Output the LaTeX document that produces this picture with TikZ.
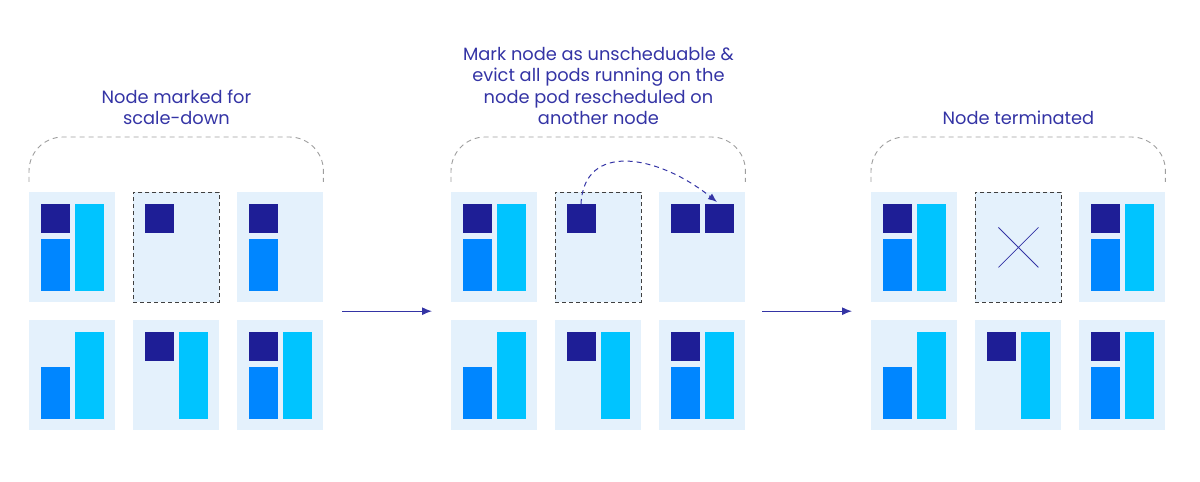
\documentclass[tikz,border=0pt]{standalone}
\usepackage{fontspec}
\setmainfont{Poppins}
\usetikzlibrary{arrows.meta,calc}
\definecolor{podnavy}{RGB}{30,30,150}
\definecolor{podblue}{RGB}{0,134,255}
\definecolor{podcyan}{RGB}{0,196,255}
\definecolor{hostfill}{RGB}{228,241,252}
\definecolor{inkblue}{RGB}{52,52,165}
\tikzstyle{host}=[fill=hostfill,inner sep=0pt,minimum width=86pt,minimum height=110pt,anchor=north west]
\tikzstyle{drained}=[host,draw=black!75,dash pattern=on 4pt off 3pt,line width=0.9pt]
\tikzstyle{bracket}=[draw=black!38,dash pattern=on 5pt off 4pt,line width=0.9pt,rounded corners=34pt]
\tikzstyle{caption}=[text=inkblue,font=\fontsize{17.8}{21.5}\selectfont,align=center,anchor=south,inner sep=0pt]
\tikzstyle{flow}=[draw=inkblue,line width=1.1pt,-{Latex[length=10pt,width=8pt]}]
\newcommand{\podS}[2]{\fill[podnavy] ([xshift=#2,yshift=-12pt]#1.north west) rectangle ++(29pt,-29pt);}
\newcommand{\podM}[1]{\fill[podblue] ([xshift=12pt,yshift=-47pt]#1.north west) rectangle ++(29pt,-52pt);}
\newcommand{\podL}[1]{\fill[podcyan] ([xshift=46pt,yshift=-12pt]#1.north west) rectangle ++(29pt,-87pt);}

\begin{document}
\begin{tikzpicture}[x=1pt,y=1pt]
\useasboundingbox (0,0) rectangle (1200,482);

% top row
\node[host] (a1) at (29,290) {};
\node[drained] (a2) at (133,290) {};
\node[host] (a3) at (237,290) {};
\node[host] (b1) at (451,290) {};
\node[drained] (b2) at (555,290) {};
\node[host] (b3) at (659,290) {};
\node[host] (c1) at (871,290) {};
\node[drained] (c2) at (975,290) {};
\node[host] (c3) at (1079,290) {};

\podS{a1}{12pt}\podM{a1}\podL{a1}
\podS{a2}{12pt}
\podS{a3}{12pt}\podM{a3}
\podS{b1}{12pt}\podM{b1}\podL{b1}
\podS{b2}{12pt}
\podS{b3}{12pt}\podS{b3}{46pt}
\podS{c1}{12pt}\podM{c1}\podL{c1}
\podS{c3}{12pt}\podM{c3}\podL{c3}

% bottom row, the same in every step
\foreach \g/\gx in {a/29,b/451,c/871}{
  \node[host] (\g4) at (\gx,162) {};
  \node[host] (\g5) at (\gx+104,162) {};
  \node[host] (\g6) at (\gx+208,162) {};
  \podM{\g4}\podL{\g4}
  \podS{\g5}{12pt}\podL{\g5}
  \podS{\g6}{12pt}\podM{\g6}\podL{\g6}
  \draw[bracket] ([yshift=10pt]\g1.north west) |- ([yshift=55pt]\g2.north) -| ([yshift=10pt]\g3.north east);
}

% terminated node
\draw[inkblue,line width=0.8pt] ([shift={(-20pt,20pt)}]c2.center) -- ([shift={(20pt,-20pt)}]c2.center)
  ([shift={(-20pt,-20pt)}]c2.center) -- ([shift={(20pt,20pt)}]c2.center);

\node[caption] (capa) at ([yshift=67pt]a2.north) {Node marked for\\scale-down};
\node[caption] (capb) at ([yshift=67pt]b2.north) {Mark node as unscheduable \&\\evict all pods running on the\\node pod rescheduled on\\another node};
\node[caption] (capc) at ([yshift=67pt]c2.north) {Node terminated};

% steps
\coordinate (aout) at ($(a3.south east)!.5!(a6.north east)+(19pt,0)$);
\coordinate (bin) at ($(b1.south west)!.5!(b4.north west)-(19pt,0)$);
\coordinate (bout) at ($(b3.south east)!.5!(b6.north east)+(17pt,0)$);
\coordinate (cin) at ($(c1.south west)!.5!(c4.north west)-(19pt,0)$);
\draw[flow] (aout) -- (bin);
\draw[flow] (bout) -- (cin);

% pod moved
\coordinate (evict) at ([xshift=26pt,yshift=-12pt]b2.north west);
\coordinate (land) at ([xshift=58pt,yshift=-10pt]b3.north west);
\draw[inkblue,line width=1pt,dash pattern=on 5pt off 4pt,-{Latex[length=9pt,width=7pt]}] (evict) .. controls +(3pt,62pt) and +(-60pt,48pt) .. (land);
\end{tikzpicture}
\end{document}
